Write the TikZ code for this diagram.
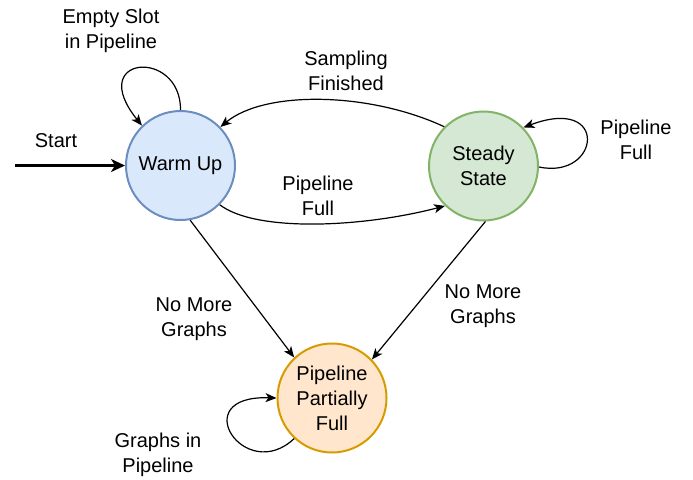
\documentclass[tikz,border=0pt]{standalone}
\usepackage{fontspec}
\setmainfont{Liberation Sans}
\usetikzlibrary{arrows.meta}
\definecolor{wufill}{HTML}{DAE8FC}\definecolor{wuline}{HTML}{6C8EBF}
\definecolor{ssfill}{HTML}{D5E8D4}\definecolor{ssline}{HTML}{82B366}
\definecolor{ppfill}{HTML}{FFE6CC}\definecolor{ppline}{HTML}{D79B00}
\tikzset{
  state/.style={circle, line width=2pt, minimum size=109pt, inner sep=0pt, align=center, font=\fontsize{20}{25}\selectfont},
  lbl/.style={align=center, inner sep=0pt, font=\fontsize{20}{25}\selectfont},
  conn/.style={line width=1.2pt, -{Stealth[length=11pt,width=9pt,inset=3pt]}},
  startconn/.style={line width=2.2pt, -{Stealth[length=14pt,width=13pt,inset=4pt]}}
}
\begin{document}
\begin{tikzpicture}[x=1pt,y=-1pt]
\useasboundingbox (0,0) rectangle (693,479);
\node[state, fill=wufill, draw=wuline] (wu) at (180.5,165.5) {\raisebox{-1.5pt}{Warm Up}};
\node[state, fill=ssfill, draw=ssline] (ss) at (483.5,166) {Steady\\State};
\node[state, fill=ppfill, draw=ppline] (pp) at (332,398) {Pipeline\\Partially\\Full};
\coordinate (st) at (15,165.5);
\draw[startconn] (st) -- (wu.west);
\node[lbl] (lstart) at (56,140.5) {Start};
% warm up self loop
\draw[conn] (wu.90) .. controls (181,48) and (85,55) .. (wu.134);
\node[lbl] (lempty) at (111,31) {Empty Slot\\in Pipeline};
% sampling finished
\draw[conn] (ss.135) .. controls (370,92) and (265,90) .. (wu.44);
\node[lbl] (lsamp) at (346,71) {Sampling\\Finished};
% pipeline full (wu -> ss)
\draw[conn] (wu.-45) .. controls (255,232) and (360,228) .. (ss.-134);
\node[lbl] (lpf1) at (318,195.5) {Pipeline\\Full};
% ss self loop
\draw[conn] (ss.-1) .. controls (600,180) and (610,95) .. (ss.44);
\node[lbl] (lpf2) at (636,140) {Pipeline\\Full};
% no more graphs
\draw[conn] (wu.-80) -- (pp.133);
\node[lbl] (lnm1) at (194,319) {No More\\Graphs};
\draw[conn] (ss.-88) -- (pp.44);
\node[lbl] (lnm2) at (483,306) {No More\\Graphs};
% pp self loop
\draw[conn] (pp.-133) .. controls (245,485) and (185,395) .. (pp.180);
\node[lbl] (lgip) at (158,455) {Graphs in\\Pipeline};
\end{tikzpicture}
\end{document}
